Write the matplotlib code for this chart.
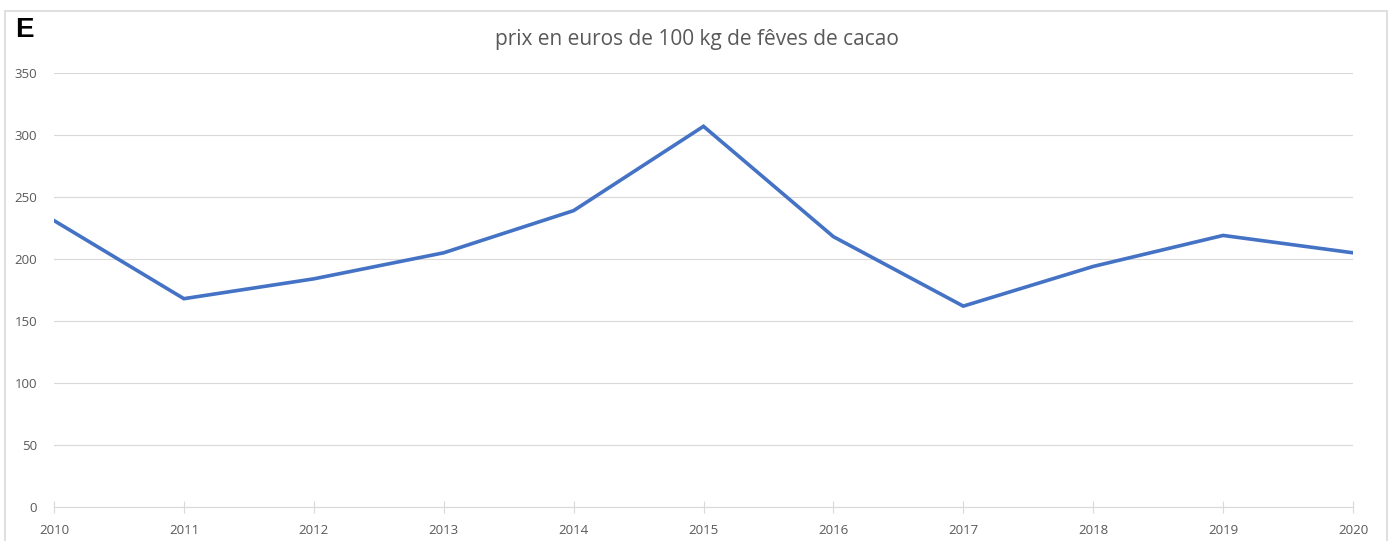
import matplotlib.pyplot as plt
from matplotlib.patches import Rectangle

years = [2010, 2011, 2012, 2013, 2014, 2015, 2016, 2017, 2018, 2019, 2020]
prices = [231, 168, 184, 205, 239, 307, 218, 162, 194, 219, 205]
y_ticks = [0, 50, 100, 150, 200, 250, 300, 350]

plt.rcParams['font.family'] = ['Open Sans', 'DejaVu Sans']

fig = plt.figure(figsize=(13.96, 5.41), dpi=100)
ax = fig.add_axes([54 / 1396, 1 - 507 / 541, (1353 - 54) / 1396, (507 - 73) / 541])

# chart frame
fig.patches.append(Rectangle((5 / 1396, -0.05), 1382 / 1396, 1.05 - 11 / 541,
                             transform=fig.transFigure, fill=False,
                             edgecolor='#D9D9D9', linewidth=1.2))

ax.plot(years, prices, color='#4472C4', linewidth=2.6, solid_joinstyle='miter')

ax.set_xlim(2010, 2020)
ax.set_ylim(0, 350)
ax.set_xticks(years)
ax.set_yticks(y_ticks)
ax.grid(axis='y', color='#D9D9D9', linewidth=0.8)
ax.set_axisbelow(True)

for s in ['top', 'right', 'left']:
    ax.spines[s].set_visible(False)
ax.spines['bottom'].set_color('#D9D9D9')
ax.spines['bottom'].set_linewidth(0.8)

ax.tick_params(axis='y', length=0, pad=12, labelsize=9.5, labelcolor='#595959')
ax.tick_params(axis='x', direction='inout', length=8, width=0.8, color='#D9D9D9',
               pad=8, labelsize=9.5, labelcolor='#595959')

fig.text(697 / 1396, 1 - 40 / 541, 'prix en euros de 100 kg de fêves de cacao',
         ha='center', va='center', fontsize=15, color='#595959')
fig.text(15 / 1396, 1 - 30 / 541, 'E', ha='left', va='center', fontsize=20,
         fontweight='bold', family='Liberation Sans', color='black')

fig.savefig('out.png', dpi=100)
